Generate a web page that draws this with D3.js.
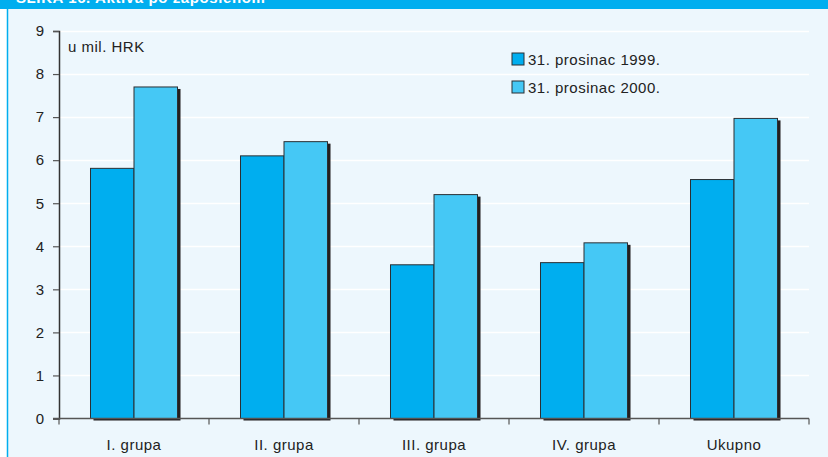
<!DOCTYPE html>
<html>
<head>
<meta charset="utf-8">
<script src="https://cdn.jsdelivr.net/npm/d3@7"></script>
<style>
  html, body { margin: 0; padding: 0; background: #ffffff; }
  svg { display: block; }
  text { font-family: "Liberation Sans", Arial, Helvetica, sans-serif; }
</style>
</head>
<body>
<svg id="chart" width="828" height="457"></svg>
<script>
const categories = ["I. grupa", "II. grupa", "III. grupa", "IV. grupa", "Ukupno"];
const seriesNames = ["31. prosinac 1999.", "31. prosinac 2000."];
const values1999 = [5.81, 6.10, 3.57, 3.62, 5.55];
const values2000 = [7.70, 6.43, 5.20, 4.08, 6.97];
const yTicks = [0, 1, 2, 3, 4, 5, 6, 7, 8, 9];
const titleText = "SLIKA 16. Aktiva po zaposlenom";
const unitText = "u mil. HRK";

const colors = ["#00aeef", "#45c8f5"];
const seriesValues = [values1999, values2000];

const svg = d3.select("#chart");
const W = 828, H = 457;

// panel background
svg.append("rect").attr("x", 0).attr("y", 0).attr("width", W).attr("height", H).attr("fill", "#ffffff");
svg.append("rect").attr("x", 8).attr("y", 0).attr("width", W - 8).attr("height", H).attr("fill", "#edf7fd");
svg.append("line").attr("x1", 7.5).attr("x2", 7.5).attr("y1", 0).attr("y2", H)
  .attr("stroke", "#00aeef").attr("stroke-width", 1.5);
// header bar
svg.append("rect").attr("x", 0).attr("y", 0).attr("width", W).attr("height", 9).attr("fill", "#00aeef");
svg.append("text").attr("x", 16).attr("y", 3).attr("fill", "#ffffff")
  .attr("font-weight", "bold").attr("font-size", 15).attr("letter-spacing", 0.6)
  .text(titleText);

const x0 = 59, x1 = 809, yBase = 418.5, yTop = 31;
const x = d3.scaleBand().domain(categories).range([x0, x1]).paddingInner(0).paddingOuter(0);
const xs = d3.scaleBand().domain(seriesNames).range([0, x.bandwidth()]).paddingInner(0).paddingOuter(0.724);
const y = d3.scaleLinear().domain([0, 9]).range([yBase, yTop]);

// gridlines
svg.append("g").selectAll("line").data(yTicks.filter(d => d > 0)).join("line")
  .attr("x1", x0 + 1).attr("x2", x1)
  .attr("y1", d => Math.round(y(d)) + 0.5).attr("y2", d => Math.round(y(d)) + 0.5)
  .attr("stroke", "#ffffff").attr("stroke-width", 1.5);

// bars
const groups = svg.append("g").selectAll("g").data(categories).join("g")
  .attr("transform", d => `translate(${x(d)},0)`);

// shadows first
groups.each(function(cat, i) {
  const g = d3.select(this);
  seriesNames.forEach((s, j) => {
    const v = seriesValues[j][i];
    g.append("rect")
      .attr("x", xs(s) + 3).attr("y", y(v) + 2)
      .attr("width", xs.bandwidth()).attr("height", yBase - y(v))
      .attr("fill", "#231f20");
  });
});
groups.each(function(cat, i) {
  const g = d3.select(this);
  seriesNames.forEach((s, j) => {
    const v = seriesValues[j][i];
    g.append("rect")
      .attr("x", xs(s)).attr("y", y(v))
      .attr("width", xs.bandwidth()).attr("height", yBase - y(v))
      .attr("fill", colors[j]).attr("stroke", "#2b2f33").attr("stroke-width", 1);
  });
});

// y axis
const yAxis = d3.axisLeft(y).tickValues(yTicks).tickSize(6).tickPadding(9).tickFormat(d3.format("d"));
const yg = svg.append("g").attr("transform", `translate(${x0},0)`).call(yAxis);
yg.select(".domain").attr("stroke", "#333").attr("stroke-width", 1.5);
yg.selectAll(".tick line").attr("stroke", "#555").attr("stroke-width", 1.2);
yg.selectAll(".tick text").attr("font-size", 15).attr("fill", "#222")
  .attr("font-family", "Liberation Sans, Arial, sans-serif");

// x axis
const xg = svg.append("g").attr("transform", `translate(0,${yBase})`);
xg.append("line").attr("x1", x0 - 6).attr("x2", x1).attr("y1", 0).attr("y2", 0)
  .attr("stroke", "#555").attr("stroke-width", 1.5);
const boundaries = categories.map(c => x(c)).concat([x1]);
xg.selectAll("line.tk").data(boundaries).join("line").attr("class", "tk")
  .attr("x1", d => d).attr("x2", d => d).attr("y1", 0).attr("y2", 6)
  .attr("stroke", "#555").attr("stroke-width", 1.2);
xg.selectAll("text").data(categories).join("text")
  .attr("x", d => x(d) + x.bandwidth() / 2).attr("y", 31)
  .attr("text-anchor", "middle").attr("font-size", 15).attr("letter-spacing", 0.5)
  .attr("fill", "#222").text(d => d);

// unit label
svg.append("text").attr("x", 68).attr("y", 52).attr("font-size", 15).attr("letter-spacing", 0.5)
  .attr("fill", "#222").text(unitText);

// legend
const lg = svg.append("g").selectAll("g").data(seriesNames).join("g")
  .attr("transform", (d, i) => `translate(512,${53 + i * 28})`);
lg.append("rect").attr("width", 12).attr("height", 12)
  .attr("fill", (d, i) => colors[i]).attr("stroke", "#2b2f33").attr("stroke-width", 1);
lg.append("text").attr("x", 16).attr("y", 12).attr("font-size", 15).attr("letter-spacing", 0.5)
  .attr("fill", "#222").text(d => d);
</script>
</body>
</html>
